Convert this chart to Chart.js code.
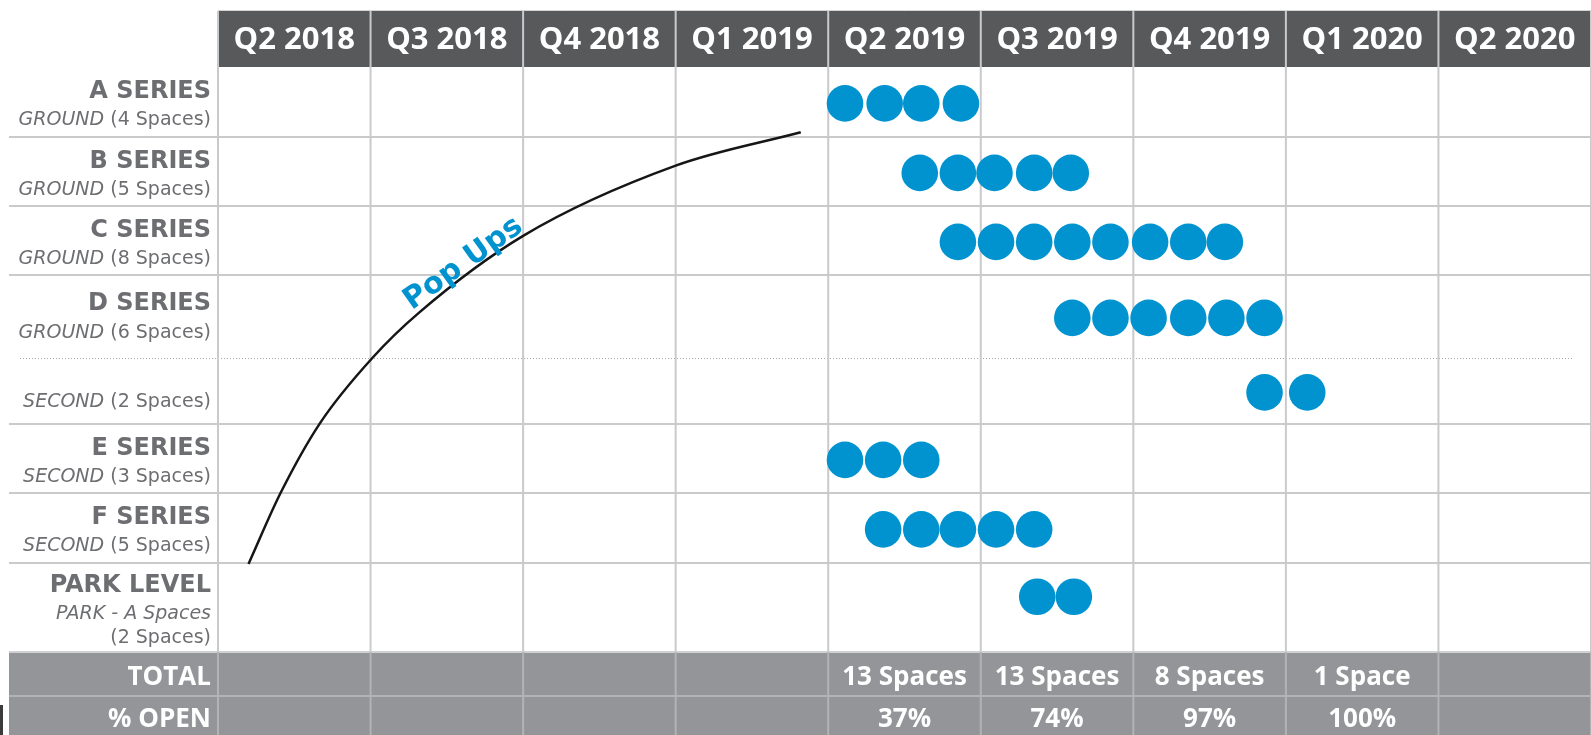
<!DOCTYPE html>
<html>
<head>
<meta charset="utf-8">
<title>Space delivery schedule</title>
<script src="https://cdn.jsdelivr.net/npm/chart.js@4.4.1/dist/chart.umd.min.js"></script>
<style>
  html, body { margin: 0; padding: 0; background: #fff; }
  #wrap { width: 1591px; height: 735px; }
</style>
</head>
<body>
<div id="wrap"><canvas id="schedule" width="1591" height="735"></canvas></div>
<script>
// Quarters across the top
const quarters = ["Q2 2018", "Q3 2018", "Q4 2018", "Q1 2019", "Q2 2019", "Q3 2019", "Q4 2019", "Q1 2020", "Q2 2020"];

// Rows down the left side
const rowTitles = ["A SERIES", "B SERIES", "C SERIES", "D SERIES", "", "E SERIES", "F SERIES", "PARK LEVEL"];
const rowLevels = ["GROUND", "GROUND", "GROUND", "GROUND", "SECOND", "SECOND", "SECOND", "PARK - A Spaces"];
const rowSpaces = [4, 5, 8, 6, 2, 3, 5, 2];

// Space openings, in quarters from the start of Q2 2018 (one dot = one space)
const aSeries = [4.11, 4.37, 4.61, 4.87];
const bSeries = [4.60, 4.85, 5.09, 5.35, 5.59];
const cSeries = [4.85, 5.10, 5.35, 5.60, 5.85, 6.11, 6.36, 6.60];
const dGround = [5.60, 5.85, 6.10, 6.36, 6.61, 6.86];
const dSecond = [6.86, 7.14];
const eSeries = [4.11, 4.36, 4.61];
const fSeries = [4.36, 4.61, 4.85, 5.10, 5.35];
const parkLevel = [5.37, 5.61];
const rowDots = [aSeries, bSeries, cSeries, dGround, dSecond, eSeries, fSeries, parkLevel];

// Bottom summary per quarter
const totalSpaces = [null, null, null, null, 13, 13, 8, 1, null];
const percentOpen = [null, null, null, null, 37, 74, 97, 100, null];

// "Pop Ups" curve (x in quarters, y in row units)
const popUpsX = [0.20, 0.41, 0.67, 1.01, 1.32, 2.00, 3.00, 3.82];
const popUpsY = [7.15, 6.13, 5.12, 4.19, 3.53, 2.43, 1.42, 0.94];

// ---- layout ----
const ROW_EDGES = [0, 1.007, 2.0, 2.993, 4.187, 5.137, 6.129, 7.137, 8.417]; // row bounds in row units
const DOTTED_EDGE = 4; // D ground / second split
const BLUE = "#0093d0";
const LABEL_GRAY = "#6d6e71";
const LABEL_RIGHT = 211;
// baseline offsets (px from row top) for title / level / extra line
const LABEL_OFFSETS = [[31, 58], [31, 58], [31, 58], [35, 63], [null, 49], [31, 58], [31, 58], [29, 55.5, 80]];

function dotY(i) {
  if (i === 7) return ROW_EDGES[i] + 0.485; // park dots sit next to the first label line
  return (ROW_EDGES[i] + ROW_EDGES[i + 1]) / 2 + 0.02;
}

const dotDatasets = rowDots.map((xs, i) => ({
  type: "scatter",
  data: xs.map(v => ({ x: v, y: dotY(i) })),
  pointRadius: 18.3,
  pointHoverRadius: 18.3,
  pointBackgroundColor: BLUE,
  pointBorderWidth: 0,
  clip: false
}));

const curveDataset = {
  type: "line",
  data: popUpsX.map((v, i) => ({ x: v, y: popUpsY[i] })),
  borderColor: "#161616",
  borderWidth: 2.5,
  pointRadius: 0,
  fill: false,
  cubicInterpolationMode: "monotone",
  clip: false
};

function hLine(ctx, x1, x2, y) {
  ctx.beginPath();
  ctx.moveTo(x1, y);
  ctx.lineTo(x2, y);
  ctx.stroke();
}
function vLine(ctx, x, y1, y2) {
  ctx.beginPath();
  ctx.moveTo(x, y1);
  ctx.lineTo(x, y2);
  ctx.stroke();
}

// draws the table: header, grid, row labels and the summary band
const tablePlugin = {
  id: "table",
  beforeDatasetsDraw(chart) {
    const { ctx, chartArea: area, scales: { x, y } } = chart;
    const W = chart.width, H = chart.height;
    const headTop = 11;
    ctx.save();

    // header bar
    ctx.fillStyle = "#58595b";
    ctx.fillRect(area.left, headTop, W - area.left, area.top - headTop);
    ctx.strokeStyle = "#d4d4d4";
    ctx.lineWidth = 1;
    hLine(ctx, area.left, W, headTop - 0.5);

    // summary band
    ctx.fillStyle = "#939598";
    ctx.fillRect(9, area.bottom, W - 9, H - area.bottom);

    // row separators
    ctx.strokeStyle = "#c9cacc";
    ctx.lineWidth = 2;
    for (let i = 1; i < ROW_EDGES.length - 1; i++) {
      if (i === DOTTED_EDGE) continue;
      hLine(ctx, 9, W, y.getPixelForValue(ROW_EDGES[i]));
    }
    ctx.strokeStyle = "#d0d1d3";
    hLine(ctx, 9, W, area.bottom);
    ctx.strokeStyle = "#b2b3b5";
    hLine(ctx, 9, W, 696);

    // dotted split inside D series
    ctx.save();
    ctx.strokeStyle = "#a8a8a8";
    ctx.lineWidth = 1;
    ctx.setLineDash([1, 2]);
    hLine(ctx, 20, 1573, Math.round(y.getPixelForValue(ROW_EDGES[DOTTED_EDGE])) + 0.5);
    ctx.restore();

    // column lines
    ctx.lineWidth = 2;
    for (let i = 0; i <= quarters.length; i++) {
      const px = x.getPixelForValue(i);
      ctx.strokeStyle = "#c9cacc";
      vLine(ctx, px, headTop, area.bottom);
      ctx.strokeStyle = "#b2b3b5";
      vLine(ctx, px, area.bottom, H);
    }

    // header labels
    ctx.fillStyle = "#ffffff";
    ctx.font = 'bold 31px "Open Sans"';
    ctx.textAlign = "center";
    ctx.textBaseline = "alphabetic";
    quarters.forEach((q, i) => ctx.fillText(q, x.getPixelForValue(i + 0.5), 49));

    // row labels
    ctx.fillStyle = LABEL_GRAY;
    ctx.textAlign = "left";
    rowTitles.forEach((title, i) => {
      const top = y.getPixelForValue(ROW_EDGES[i]);
      const offs = LABEL_OFFSETS[i];
      if (title) {
        ctx.font = 'bold 24px "DejaVu Sans"';
        const w = ctx.measureText(title).width;
        ctx.fillText(title, LABEL_RIGHT - w, top + offs[0]);
      }
      const count = "(" + rowSpaces[i] + " Spaces)";
      if (i === 7) {
        ctx.font = 'italic 19px "DejaVu Sans"';
        ctx.fillText(rowLevels[i], LABEL_RIGHT - ctx.measureText(rowLevels[i]).width, top + offs[1]);
        ctx.font = '19px "DejaVu Sans"';
        ctx.fillText(count, LABEL_RIGHT - ctx.measureText(count).width, top + offs[2]);
      } else {
        ctx.font = '19px "DejaVu Sans"';
        const rest = " " + count;
        const wRest = ctx.measureText(rest).width;
        ctx.fillText(rest, LABEL_RIGHT - wRest, top + offs[1]);
        ctx.font = 'italic 19px "DejaVu Sans"';
        const wLevel = ctx.measureText(rowLevels[i]).width;
        ctx.fillText(rowLevels[i], LABEL_RIGHT - wRest - wLevel, top + offs[1]);
      }
    });

    // summary band text
    ctx.fillStyle = "#ffffff";
    ctx.font = 'bold 26px "Open Sans"';
    ctx.textAlign = "right";
    ctx.fillText("TOTAL", LABEL_RIGHT, 685);
    ctx.fillText("% OPEN", LABEL_RIGHT, 727);
    ctx.textAlign = "center";
    totalSpaces.forEach((n, i) => {
      if (n === null) return;
      ctx.fillText(n + (n === 1 ? " Space" : " Spaces"), x.getPixelForValue(i + 0.5), 685);
    });
    percentOpen.forEach((p, i) => {
      if (p === null) return;
      ctx.fillText(p + "%", x.getPixelForValue(i + 0.5), 727);
    });

    // small dark mark at the bottom-left edge of the scan
    ctx.fillStyle = "#3b3b3b";
    ctx.fillRect(0, 705, 3, 30);

    ctx.restore();
  },
  afterDatasetsDraw(chart) {
    const { ctx, scales: { x, y } } = chart;
    ctx.save();
    ctx.translate(x.getPixelForValue(1.27), y.getPixelForValue(3.50));
    ctx.rotate(-35.5 * Math.PI / 180);
    ctx.fillStyle = BLUE;
    ctx.font = 'bold 30px "DejaVu Sans"';
    ctx.textAlign = "left";
    ctx.textBaseline = "alphabetic";
    ctx.fillText("Pop Ups", 0, 0);
    ctx.restore();
  }
};

new Chart(document.getElementById("schedule"), {
  type: "scatter",
  data: { datasets: [...dotDatasets, curveDataset] },
  options: {
    responsive: false,
    animation: false,
    events: [],
    layout: { autoPadding: false, padding: { left: 218, top: 67, right: 0, bottom: 83 } },
    plugins: { legend: { display: false }, tooltip: { enabled: false } },
    scales: {
      x: { type: "linear", min: 0, max: quarters.length, display: false },
      y: { type: "linear", min: 0, max: ROW_EDGES[ROW_EDGES.length - 1], reverse: true, display: false }
    }
  },
  plugins: [tablePlugin]
});
</script>
</body>
</html>
